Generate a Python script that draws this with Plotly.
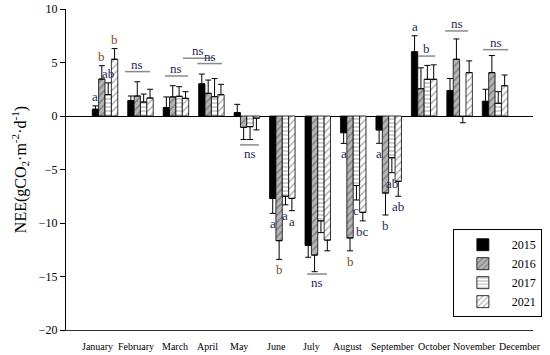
import plotly.graph_objects as go

months = ["January", "February", "March", "April", "May", "June", "July",
          "August", "September", "October", "November", "December"]
years = ["2015", "2016", "2017", "2021"]

v2015 = [0.63, 1.43, 0.78, 3.0, 0.31, -7.7, -12.1, -1.56, -1.3, 6.0, 2.37, 1.37]
e2015 = [0.32, 0.44, 1.0, 0.92, 0.78, 1.4, 1.1, 1.0, 1.25, 1.5, 1.13, 1.13]
v2016 = [3.45, 1.87, 1.78, 2.12, -1.06, -11.65, -13.0, -11.4, -7.2, 2.55, 5.3, 4.05]
e2016 = [1.25, 1.33, 1.05, 1.24, 1.14, 1.75, 1.55, 1.2, 2.05, 1.95, 1.9, 1.6]
v2017 = [2.0, 1.3, 1.84, 1.8, -1.0, -7.5, -9.8, -6.5, -3.9, 3.43, -0.05, 1.19]
e2017 = [1.1, 0.75, 0.9, 1.7, 1.2, 0.8, 1.1, 1.35, 1.4, 1.3, 0.58, 1.08]
v2021 = [5.3, 1.68, 1.65, 1.99, -0.2, -7.7, -11.6, -9.0, -6.1, 3.43, 4.05, 2.83]
e2021 = [1.0, 0.82, 0.62, 0.97, 1.1, 1.15, 1.0, 0.8, 1.4, 1.35, 1.1, 1.0]

# significance letters per bar
L2015 = ["a", "", "", "", "", "a", "", "a", "a", "a", "", ""]
L2016 = ["b", "", "", "", "", "b", "", "b", "b", "", "", ""]
L2017 = ["ab", "", "", "", "", "a", "", "c", "ab", "", "", ""]
L2021 = ["b", "", "", "", "", "a", "", "bc", "ab", "", "", ""]

# group labels (text with a bar over several columns)
grp_text = ["ns", "ns", "ns", "ns", "ns", "ns", "b", "ns", "ns"]
grp_x0 = [0.56, 1.69, 2.2, 2.6, 3.81, 5.7, 8.83, 9.59, 10.66]
grp_x1 = [1.27, 2.34, 3.02, 3.3, 4.34, 6.26, 9.31, 10.24, 11.37]
grp_y = [4.15, 3.74, 5.4, 4.9, -2.7, -14.77, 5.6, 7.95, 6.2]

# month label positions along the axis (as drawn in the original)
month_label_x = [-0.2, 0.87, 1.97, 2.88, 3.78, 4.85, 5.81, 6.85, 8.1, 9.28, 10.41, 11.71]

values = [v2015, v2016, v2017, v2021]
errors = [e2015, e2016, e2017, e2021]
letters = [L2015, L2016, L2017, L2021]

NAVY = "#1f2a55"
BROWN = "#7a4a1c"
FONT = "Liberation Serif"

styles = [
    dict(color="black", line=dict(color="black", width=0.8)),
    dict(color="#b5b5b5", line=dict(color="black", width=0.8),
         pattern=dict(shape="/", fillmode="overlay", bgcolor="#b5b5b5", fgcolor="#4a4a4a", size=5, solidity=0.3)),
    dict(color="white", line=dict(color="black", width=0.8),
         pattern=dict(shape="-", fillmode="overlay", bgcolor="white", fgcolor="#444444", size=4, solidity=0.25)),
    dict(color="white", line=dict(color="black", width=0.8),
         pattern=dict(shape="/", fillmode="overlay", bgcolor="white", fgcolor="#666666", size=5, solidity=0.3)),
]

x_idx = list(range(len(months)))
fig = go.Figure()
for yr, vals, errs, st in zip(years, values, errors, styles):
    up = [e if v >= 0 else 0 for v, e in zip(vals, errs)]
    dn = [e if v < 0 else 0 for v, e in zip(vals, errs)]
    fig.add_trace(go.Bar(
        x=x_idx, y=vals, name=yr, marker=st,
        error_y=dict(type="data", symmetric=False, array=up, arrayminus=dn,
                     color="black", thickness=1, width=3),
    ))

bargap = 0.28
bw = (1 - bargap) / len(years)
offsets = [(-(len(years) - 1) / 2 + j) * bw for j in range(len(years))]

annotations = []
for j in range(len(years)):
    for i in range(len(months)):
        t = letters[j][i]
        if not t:
            continue
        v, e = values[j][i], errors[j][i]
        col = BROWN if t == "b" and (i in (0, 5, 7)) else NAVY
        if v >= 0:
            annotations.append(dict(x=i + offsets[j], y=v + e, text=t, showarrow=False,
                                    yanchor="bottom", yshift=0,
                                    font=dict(family=FONT, size=13, color=col)))
        else:
            annotations.append(dict(x=i + offsets[j], y=v - e, text=t, showarrow=False,
                                    yanchor="top", yshift=-1,
                                    font=dict(family=FONT, size=13, color=col)))

shapes = []
for t, x0, x1, y in zip(grp_text, grp_x0, grp_x1, grp_y):
    shapes.append(dict(type="line", xref="x", yref="y", x0=x0, x1=x1, y0=y, y1=y,
                       line=dict(color="#8a8a8a", width=1.5)))
    annotations.append(dict(x=(x0 + x1) / 2, y=y, text=t, showarrow=False,
                            yanchor="bottom" if y >= 0 else "top",
                            yshift=-2 if y >= 0 else 1,
                            font=dict(family=FONT, size=13, color=NAVY)))

for m, mx in zip(months, month_label_x):
    annotations.append(dict(x=mx, xref="x", y=-0.05, yref="paper", text=m,
                            showarrow=False, yanchor="middle",
                            font=dict(family=FONT, size=10, color="black")))

fig.update_layout(
    width=550, height=355,
    margin=dict(l=66, r=17, t=9, b=25, autoexpand=False),
    paper_bgcolor="white", plot_bgcolor="white",
    barmode="group", bargap=bargap, bargroupgap=0,
    font=dict(family=FONT, color="black"),
    showlegend=True,
    legend=dict(x=1.019, xanchor="right", y=0.04, yanchor="bottom",
                bgcolor="white", bordercolor="black", borderwidth=1,
                font=dict(family=FONT, size=12), tracegroupgap=0, itemwidth=48),
    annotations=annotations,
    shapes=shapes,
)
fig.update_xaxes(range=[-1.1, 12.07], showticklabels=False, ticks="",
                 showline=True, linecolor="#333333", linewidth=1,
                 showgrid=False, zeroline=False, automargin=False)
fig.update_yaxes(range=[-20, 10], tickvals=[-20, -15, -10, -5, 0, 5, 10],
                 ticks="outside", ticklen=5, tickcolor="black",
                 tickfont=dict(family=FONT, size=12), automargin=False,
                 showline=True, linecolor="black", linewidth=1,
                 showgrid=False, zeroline=True, zerolinecolor="black", zerolinewidth=1,
                 title=dict(text="NEE(gCO<sub>2</sub>·m<sup>-2</sup>·d<sup>-1</sup>)",
                            font=dict(family=FONT, size=16), standoff=8))

fig.write_html("out.html", config={"displayModeBar": False},
               post_script="document.body.style.margin='0';")
